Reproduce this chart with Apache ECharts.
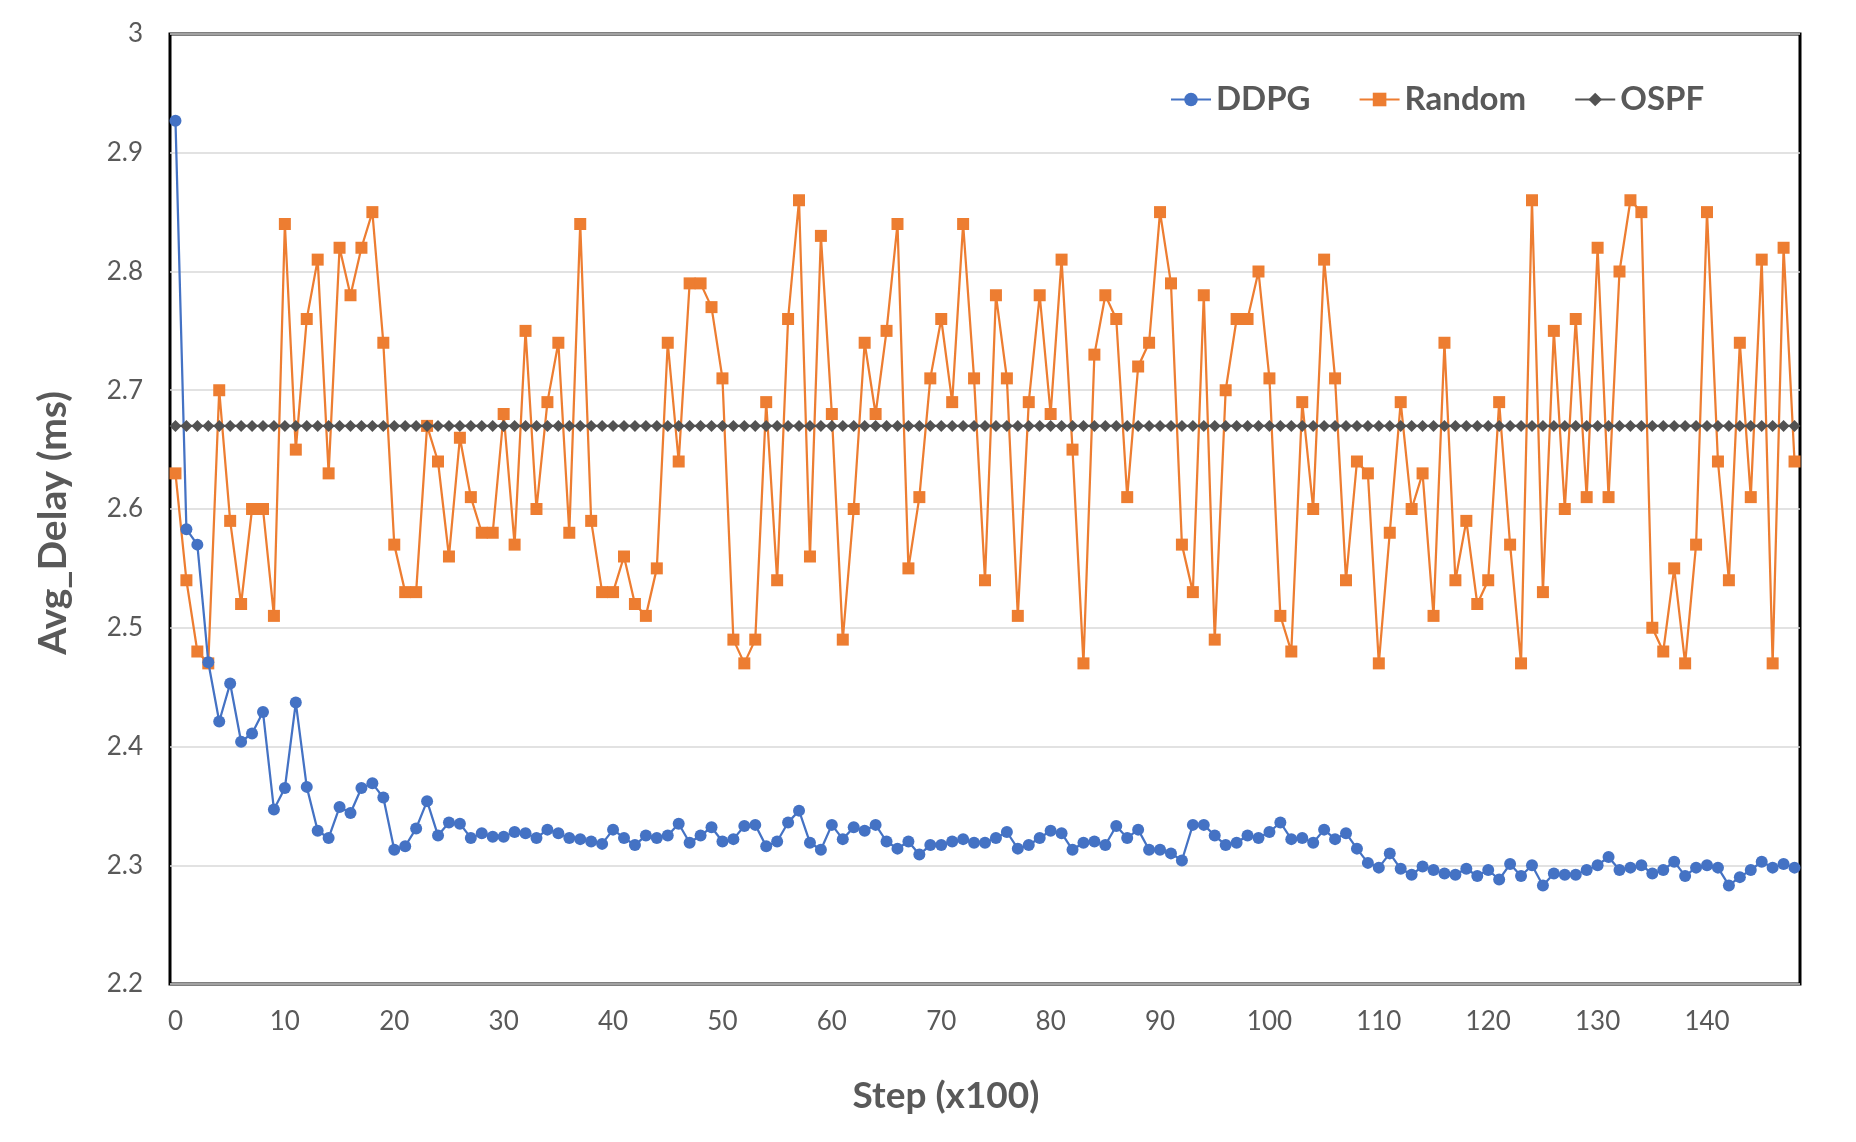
<!DOCTYPE html>
<html>
<head>
<meta charset="utf-8">
<title>Avg_Delay</title>
<script src="https://cdn.jsdelivr.net/npm/echarts@6/dist/echarts.min.js"></script>
<style>
  html, body { margin: 0; padding: 0; background: #fff; }
  #main { width: 1856px; height: 1142px; }
</style>
</head>
<body>
<div id="main"></div>
<script>
// steps 0..148 (x100)
var steps = [];
for (var i = 0; i < 149; i++) steps.push(String(i));

var ddpg = [
  2.927, 2.583, 2.570, 2.471, 2.421, 2.453, 2.404, 2.411, 2.429, 2.347,
  2.365, 2.437, 2.366, 2.329, 2.323, 2.349, 2.344, 2.365, 2.369, 2.357,
  2.313, 2.316, 2.331, 2.354, 2.325, 2.336, 2.335, 2.323, 2.327, 2.324,
  2.324, 2.328, 2.327, 2.323, 2.330, 2.327, 2.323, 2.322, 2.320, 2.318,
  2.330, 2.323, 2.317, 2.325, 2.323, 2.325, 2.335, 2.319, 2.325, 2.332,
  2.320, 2.322, 2.333, 2.334, 2.316, 2.320, 2.336, 2.346, 2.319, 2.313,
  2.334, 2.322, 2.332, 2.329, 2.334, 2.320, 2.314, 2.320, 2.309, 2.317,
  2.317, 2.320, 2.322, 2.319, 2.319, 2.323, 2.328, 2.314, 2.317, 2.323,
  2.329, 2.327, 2.313, 2.319, 2.320, 2.317, 2.333, 2.323, 2.330, 2.313,
  2.313, 2.310, 2.304, 2.334, 2.334, 2.325, 2.317, 2.319, 2.325, 2.323,
  2.328, 2.336, 2.322, 2.323, 2.319, 2.330, 2.322, 2.327, 2.314, 2.302,
  2.298, 2.310, 2.297, 2.292, 2.299, 2.296, 2.293, 2.292, 2.297, 2.291,
  2.296, 2.288, 2.301, 2.291, 2.300, 2.283, 2.293, 2.292, 2.292, 2.296,
  2.300, 2.307, 2.296, 2.298, 2.300, 2.293, 2.296, 2.303, 2.291, 2.298,
  2.300, 2.298, 2.283, 2.290, 2.296, 2.303, 2.298, 2.301, 2.298
];

var random = [
  2.63, 2.54, 2.48, 2.47, 2.70, 2.59, 2.52, 2.60, 2.60, 2.51,
  2.84, 2.65, 2.76, 2.81, 2.63, 2.82, 2.78, 2.82, 2.85, 2.74,
  2.57, 2.53, 2.53, 2.67, 2.64, 2.56, 2.66, 2.61, 2.58, 2.58,
  2.68, 2.57, 2.75, 2.60, 2.69, 2.74, 2.58, 2.84, 2.59, 2.53,
  2.53, 2.56, 2.52, 2.51, 2.55, 2.74, 2.64, 2.79, 2.79, 2.77,
  2.71, 2.49, 2.47, 2.49, 2.69, 2.54, 2.76, 2.86, 2.56, 2.83,
  2.68, 2.49, 2.60, 2.74, 2.68, 2.75, 2.84, 2.55, 2.61, 2.71,
  2.76, 2.69, 2.84, 2.71, 2.54, 2.78, 2.71, 2.51, 2.69, 2.78,
  2.68, 2.81, 2.65, 2.47, 2.73, 2.78, 2.76, 2.61, 2.72, 2.74,
  2.85, 2.79, 2.57, 2.53, 2.78, 2.49, 2.70, 2.76, 2.76, 2.80,
  2.71, 2.51, 2.48, 2.69, 2.60, 2.81, 2.71, 2.54, 2.64, 2.63,
  2.47, 2.58, 2.69, 2.60, 2.63, 2.51, 2.74, 2.54, 2.59, 2.52,
  2.54, 2.69, 2.57, 2.47, 2.86, 2.53, 2.75, 2.60, 2.76, 2.61,
  2.82, 2.61, 2.80, 2.86, 2.85, 2.50, 2.48, 2.55, 2.47, 2.57,
  2.85, 2.64, 2.54, 2.74, 2.61, 2.81, 2.47, 2.82, 2.64
];

// OSPF stays flat
var ospfValue = 2.67;
var ospf = steps.map(function () { return ospfValue; });

var fontName = 'Lato, "Noto Sans", sans-serif';
var grey = '#595959';

var chart = echarts.init(document.getElementById('main'));
chart.setOption({
  animation: false,
  backgroundColor: '#fff',
  grid: {
    left: 170,
    right: 56,
    top: 34,
    bottom: 158,
    show: true,
    borderColor: '#000',
    borderWidth: 3,
    backgroundColor: 'transparent'
  },
  legend: {
    left: 1165,
    top: 78,
    itemWidth: 40,
    itemHeight: 17,
    itemGap: 48,
    textStyle: { fontFamily: fontName, fontWeight: 'bold', fontSize: 33, color: grey },
    data: ['DDPG', 'Random', 'OSPF']
  },
  xAxis: {
    type: 'category',
    data: steps,
    boundaryGap: true,
    name: 'Step (x100)',
    nameLocation: 'middle',
    nameGap: 94,
    nameTextStyle: {
      fontFamily: fontName, fontWeight: 'bold', fontSize: 37, color: grey,
      // title sits a bit left of the plot centre
      padding: [0, 78, 0, 0]
    },
    axisLine: { show: false },
    axisTick: { show: false },
    axisLabel: {
      interval: function (idx) { return idx % 10 === 0; },
      margin: 25,
      fontFamily: fontName,
      fontSize: 26,
      color: grey
    },
    splitLine: { show: false }
  },
  yAxis: {
    type: 'value',
    min: 2.2,
    max: 3,
    interval: 0.1,
    name: 'Avg_Delay (ms)',
    nameLocation: 'middle',
    nameGap: 97,
    nameTextStyle: {
      fontFamily: fontName, fontWeight: 'bold', fontSize: 39, color: grey,
      padding: [0, 28, 0, 0]
    },
    axisLine: { show: false },
    axisTick: { show: false },
    axisLabel: {
      margin: 27,
      fontFamily: fontName,
      fontSize: 26,
      color: grey,
      formatter: function (v) { return String(Math.round(v * 10) / 10); }
    },
    splitLine: { lineStyle: { color: '#D9D9D9', width: 1.5 } }
  },
  series: [
    {
      name: 'DDPG',
      type: 'line',
      data: ddpg,
      symbol: 'circle',
      symbolSize: 12,
      showAllSymbol: true,
      color: '#4472C4',
      lineStyle: { width: 2.25, color: '#4472C4' },
      itemStyle: { color: '#4472C4' },
      z: 4
    },
    {
      name: 'Random',
      type: 'line',
      data: random,
      symbol: 'rect',
      symbolSize: 12,
      showAllSymbol: true,
      color: '#ED7D31',
      lineStyle: { width: 2.25, color: '#ED7D31' },
      itemStyle: { color: '#ED7D31' },
      z: 3
    },
    {
      name: 'OSPF',
      type: 'line',
      data: ospf,
      symbol: 'diamond',
      symbolSize: 12,
      showAllSymbol: true,
      color: '#525252',
      lineStyle: { width: 2.25, color: '#525252' },
      itemStyle: { color: '#525252' },
      z: 5
    }
  ]
});
</script>
</body>
</html>
